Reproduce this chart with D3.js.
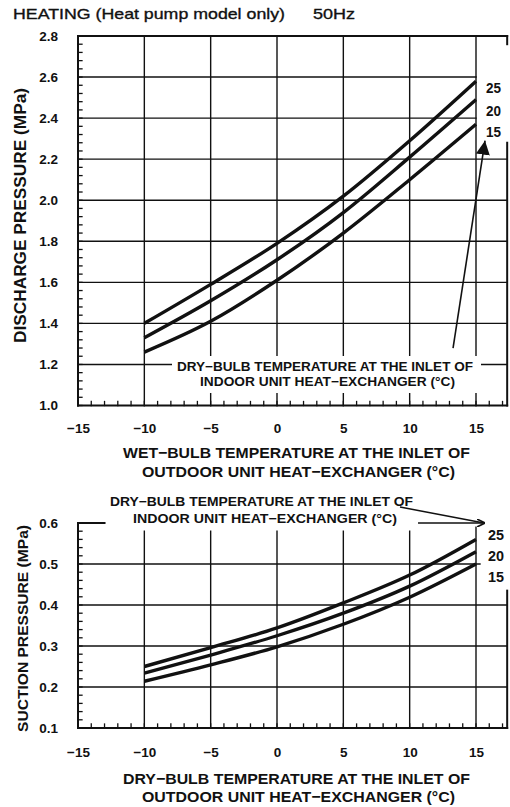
<!DOCTYPE html>
<html>
<head>
<meta charset="utf-8">
<script src="https://cdn.jsdelivr.net/npm/d3@7"></script>
<style>
  html, body { margin: 0; padding: 0; background: #fff; }
  svg { display: block; }
  text { font-family: "Liberation Sans", Arial, Helvetica, sans-serif; fill: #111; }
</style>
</head>
<body>
<svg id="chart" width="510" height="807"></svg>
<script>
// Outdoor inlet temperature (°C) at which each curve is sampled
const outdoorTemp = [-10, -5, 0, 5, 10, 15];
// Indoor inlet dry-bulb temperature for each curve (°C)
const indoorDryBulb = [25, 20, 15];

// Discharge pressure (MPa) vs outdoor wet-bulb temperature
const discharge25 = [1.40, 1.59, 1.79, 2.02, 2.29, 2.58];
const discharge20 = [1.33, 1.51, 1.71, 1.94, 2.21, 2.49];
const discharge15 = [1.26, 1.41, 1.61, 1.84, 2.10, 2.37];

// Suction pressure (MPa) vs outdoor dry-bulb temperature
const suction25 = [0.250, 0.296, 0.344, 0.405, 0.473, 0.560];
const suction20 = [0.234, 0.278, 0.325, 0.380, 0.446, 0.530];
const suction15 = [0.214, 0.254, 0.298, 0.353, 0.419, 0.500];

// Axis tick labels
const tempTicks = [-15, -10, -5, 0, 5, 10, 15];
const dischargeTicks = [1.0, 1.2, 1.4, 1.6, 1.8, 2.0, 2.2, 2.4, 2.6, 2.8];
const suctionTicks = [0.1, 0.2, 0.3, 0.4, 0.5, 0.6];

const svg = d3.select("#chart");
const INK = "#111";

const x = d3.scaleLinear().domain([-15, 15]).range([78, 476]);
const xEdge = 17.35; // right edge of the plotting frame (°C)
const yD = d3.scaleLinear().domain([1.0, 2.8]).range([405.5, 36]);
const yS = d3.scaleLinear().domain([0.1, 0.6]).range([728, 523]);

function seg(g, x1, y1, x2, y2, w) {
  g.append("line").attr("x1", x1).attr("y1", y1).attr("x2", x2).attr("y2", y2)
    .attr("stroke", INK).attr("stroke-width", w).attr("stroke-linecap", "square");
}

function label(g, str, px, py, o) {
  const t = g.append("text").attr("x", px).attr("y", py).text(str)
    .attr("font-size", o.size).attr("font-weight", o.weight || "bold")
    .attr("text-anchor", o.anchor || "start");
  if (o.width) t.attr("textLength", o.width).attr("lengthAdjust", "spacingAndGlyphs");
  if (o.transform) t.attr("transform", o.transform);
  if (o.heavy) t.attr("stroke", INK).attr("stroke-width", o.heavy);
  return t;
}

const fmtTemp = d => (d < 0 ? "\u2212" + Math.abs(d) : String(d));

// Title
label(svg, "HEATING (Heat pump model only)", 13, 19, { size: 15, weight: "normal", width: 272, heavy: 0.35 });
label(svg, "50Hz", 313, 19, { size: 15, weight: "normal", width: 42, heavy: 0.35 });

const defs = svg.append("defs");
defs.append("marker")
  .attr("id", "head").attr("viewBox", "0 0 10 10").attr("refX", 10).attr("refY", 5)
  .attr("markerWidth", 14).attr("markerHeight", 14).attr("markerUnits", "userSpaceOnUse")
  .attr("orient", "auto")
  .append("path").attr("d", "M0,0 L10,5 L0,10 Z").attr("fill", INK);
defs.append("marker")
  .attr("id", "headSmall").attr("viewBox", "0 0 10 10").attr("refX", 10).attr("refY", 5)
  .attr("markerWidth", 8).attr("markerHeight", 8).attr("markerUnits", "userSpaceOnUse")
  .attr("orient", "auto")
  .append("path").attr("d", "M0,0 L10,5 L0,10").attr("fill", "none").attr("stroke", INK).attr("stroke-width", 2);

function styleAxis(a) {
  a.select(".domain").remove();
  a.selectAll("text").attr("font-size", 13.5).attr("font-weight", "bold")
    .attr("font-family", "'Liberation Sans', Arial, sans-serif").attr("fill", INK);
}

// ---------------- Discharge pressure panel ----------------
const upper = svg.append("g");
const gridU = upper.append("g");

// vertical grid
[-10, -5, 0, 5, 10, 15].forEach(v => seg(gridU, x(v), yD(2.8), x(v), yD(1.0), 1.4));
// horizontal grid
dischargeTicks.slice(1, -1).forEach(v => {
  const right = v >= 2.35 ? x(15) : x(xEdge);
  seg(gridU, x(-15), yD(v), right, yD(v), 1.4);
});
// frame
seg(upper, x(-15), yD(2.8), x(xEdge), yD(2.8), 2);
seg(upper, x(-15), yD(2.8), x(-15), yD(1.0), 2);
seg(upper, x(-15), yD(1.0), x(xEdge), yD(1.0), 2);
seg(upper, x(xEdge), yD(2.8), x(xEdge), yD(2.76), 2);
seg(upper, x(xEdge), yD(2.28), x(xEdge), yD(1.0), 2);
// minor ticks
d3.range(0, 46).map(i => 1.0 + i * 0.04).forEach(v => seg(upper, x(-15), yD(v), x(-15) + 4, yD(v), 1.3));
d3.range(-15, 18).forEach(v => seg(upper, x(v), yD(1.0), x(v), yD(1.0) - 4, 1.3));

// indoor dry-bulb note inside the plot
upper.append("rect").attr("x", 172).attr("y", 356).attr("width", 309).attr("height", 37).attr("fill", "#fff");
label(upper, "DRY\u2212BULB TEMPERATURE AT THE INLET OF", 325, 371, { size: 13, anchor: "middle", width: 296 });
label(upper, "INDOOR UNIT HEAT\u2212EXCHANGER (\u00B0C)", 327.5, 386, { size: 13, anchor: "middle", width: 255 });

// curves
const lineD = d3.line().x((d, i) => x(outdoorTemp[i])).y(d => yD(d)).curve(d3.curveMonotoneX);
[discharge25, discharge20, discharge15].forEach(s => {
  upper.append("path").attr("d", lineD(s)).attr("fill", "none").attr("stroke", INK).attr("stroke-width", 3.4);
});

// curve labels
indoorDryBulb.forEach((t, i) => {
  label(upper, String(t), 486, [93, 116, 137][i], { size: 15, width: 15 });
});

// arrow from the note to the curve labels
upper.append("line")
  .attr("x1", x(13.27)).attr("y1", yD(1.28)).attr("x2", x(15.68)).attr("y2", yD(2.29))
  .attr("stroke", INK).attr("stroke-width", 1.6).attr("marker-end", "url(#head)");

// axes labels
const axL1 = upper.append("g").attr("transform", `translate(${x(-15)},0)`)
  .call(d3.axisLeft(yD).tickValues(dischargeTicks).tickSize(0).tickPadding(20).tickFormat(d3.format(".1f")));
const axB1 = upper.append("g").attr("transform", `translate(0,${yD(1.0)})`)
  .call(d3.axisBottom(x).tickValues(tempTicks).tickSize(0).tickPadding(18).tickFormat(fmtTemp));
styleAxis(axL1);
styleAxis(axB1);

label(upper, "DISCHARGE PRESSURE (MPa)", 0, 0, { size: 17, anchor: "middle", width: 255, transform: "translate(26,215.5) rotate(-90)" });
label(upper, "WET\u2212BULB TEMPERATURE AT THE INLET OF", 296.5, 458, { size: 15.5, anchor: "middle", width: 347 });
label(upper, "OUTDOOR UNIT HEAT\u2212EXCHANGER (\u00B0C)", 298.5, 477, { size: 15.5, anchor: "middle", width: 313 });

// ---------------- Suction pressure panel ----------------
const lower = svg.append("g");
const gridL = lower.append("g");

[-10, -5, 0, 5, 10].forEach(v => seg(gridL, x(v), yS(0.58), x(v), yS(0.1), 1.4));
seg(gridL, x(15), yS(0.59), x(15), yS(0.1), 1.4);
suctionTicks.slice(1, -1).forEach(v => {
  const right = v >= 0.45 ? x(15.3) : x(xEdge);
  seg(gridL, x(-15), yS(v), right, yS(v), 1.4);
});
// frame
seg(lower, x(-15), yS(0.6), x(-13), yS(0.6), 2);
seg(lower, x(-15), yS(0.6), x(-15), yS(0.1), 2);
seg(lower, x(-15), yS(0.1), x(xEdge), yS(0.1), 2);
seg(lower, x(xEdge), yS(0.435), x(xEdge), yS(0.1), 2);
// minor ticks
d3.range(0, 26).map(i => 0.1 + i * 0.02).forEach(v => seg(lower, x(-15), yS(v), x(-15) + 4, yS(v), 1.3));
d3.range(-15, 18).forEach(v => seg(lower, x(v), yS(0.1), x(v), yS(0.1) - 4, 1.3));

const lineS = d3.line().x((d, i) => x(outdoorTemp[i])).y(d => yS(d)).curve(d3.curveMonotoneX);
[suction25, suction20, suction15].forEach(s => {
  lower.append("path").attr("d", lineS(s)).attr("fill", "none").attr("stroke", INK).attr("stroke-width", 3.4);
});

indoorDryBulb.forEach((t, i) => {
  label(lower, String(t), 488, [540, 561, 582][i], { size: 15, width: 16 });
});

// note above the panel with its leader
label(lower, "DRY\u2212BULB TEMPERATURE AT THE INLET OF", 261.5, 506, { size: 13, anchor: "middle", width: 303 });
label(lower, "INDOOR UNIT HEAT\u2212EXCHANGER (\u00B0C)", 265, 523, { size: 13, anchor: "middle", width: 264 });
lower.append("line")
  .attr("x1", x(9.27)).attr("y1", yS(0.639)).attr("x2", x(15.6)).attr("y2", yS(0.6))
  .attr("stroke", INK).attr("stroke-width", 1.5);
lower.append("line")
  .attr("x1", x(10.63)).attr("y1", yS(0.6)).attr("x2", x(15.68)).attr("y2", yS(0.6))
  .attr("stroke", INK).attr("stroke-width", 1.6).attr("marker-end", "url(#headSmall)");

const axL2 = lower.append("g").attr("transform", `translate(${x(-15)},0)`)
  .call(d3.axisLeft(yS).tickValues(suctionTicks).tickSize(0).tickPadding(20).tickFormat(d3.format(".1f")));
const axB2 = lower.append("g").attr("transform", `translate(0,${yS(0.1)})`)
  .call(d3.axisBottom(x).tickValues(tempTicks).tickSize(0).tickPadding(19.4).tickFormat(fmtTemp));
styleAxis(axL2);
styleAxis(axB2);

label(lower, "SUCTION PRESSURE (MPa)", 0, 0, { size: 15.5, anchor: "middle", width: 207, transform: "translate(28,628.5) rotate(-90)" });
label(lower, "DRY\u2212BULB TEMPERATURE AT THE INLET OF", 296.5, 784, { size: 15.5, anchor: "middle", width: 347 });
label(lower, "OUTDOOR UNIT HEAT\u2212EXCHANGER (\u00B0C)", 298.5, 802, { size: 15.5, anchor: "middle", width: 313 });
</script>
</body>
</html>
